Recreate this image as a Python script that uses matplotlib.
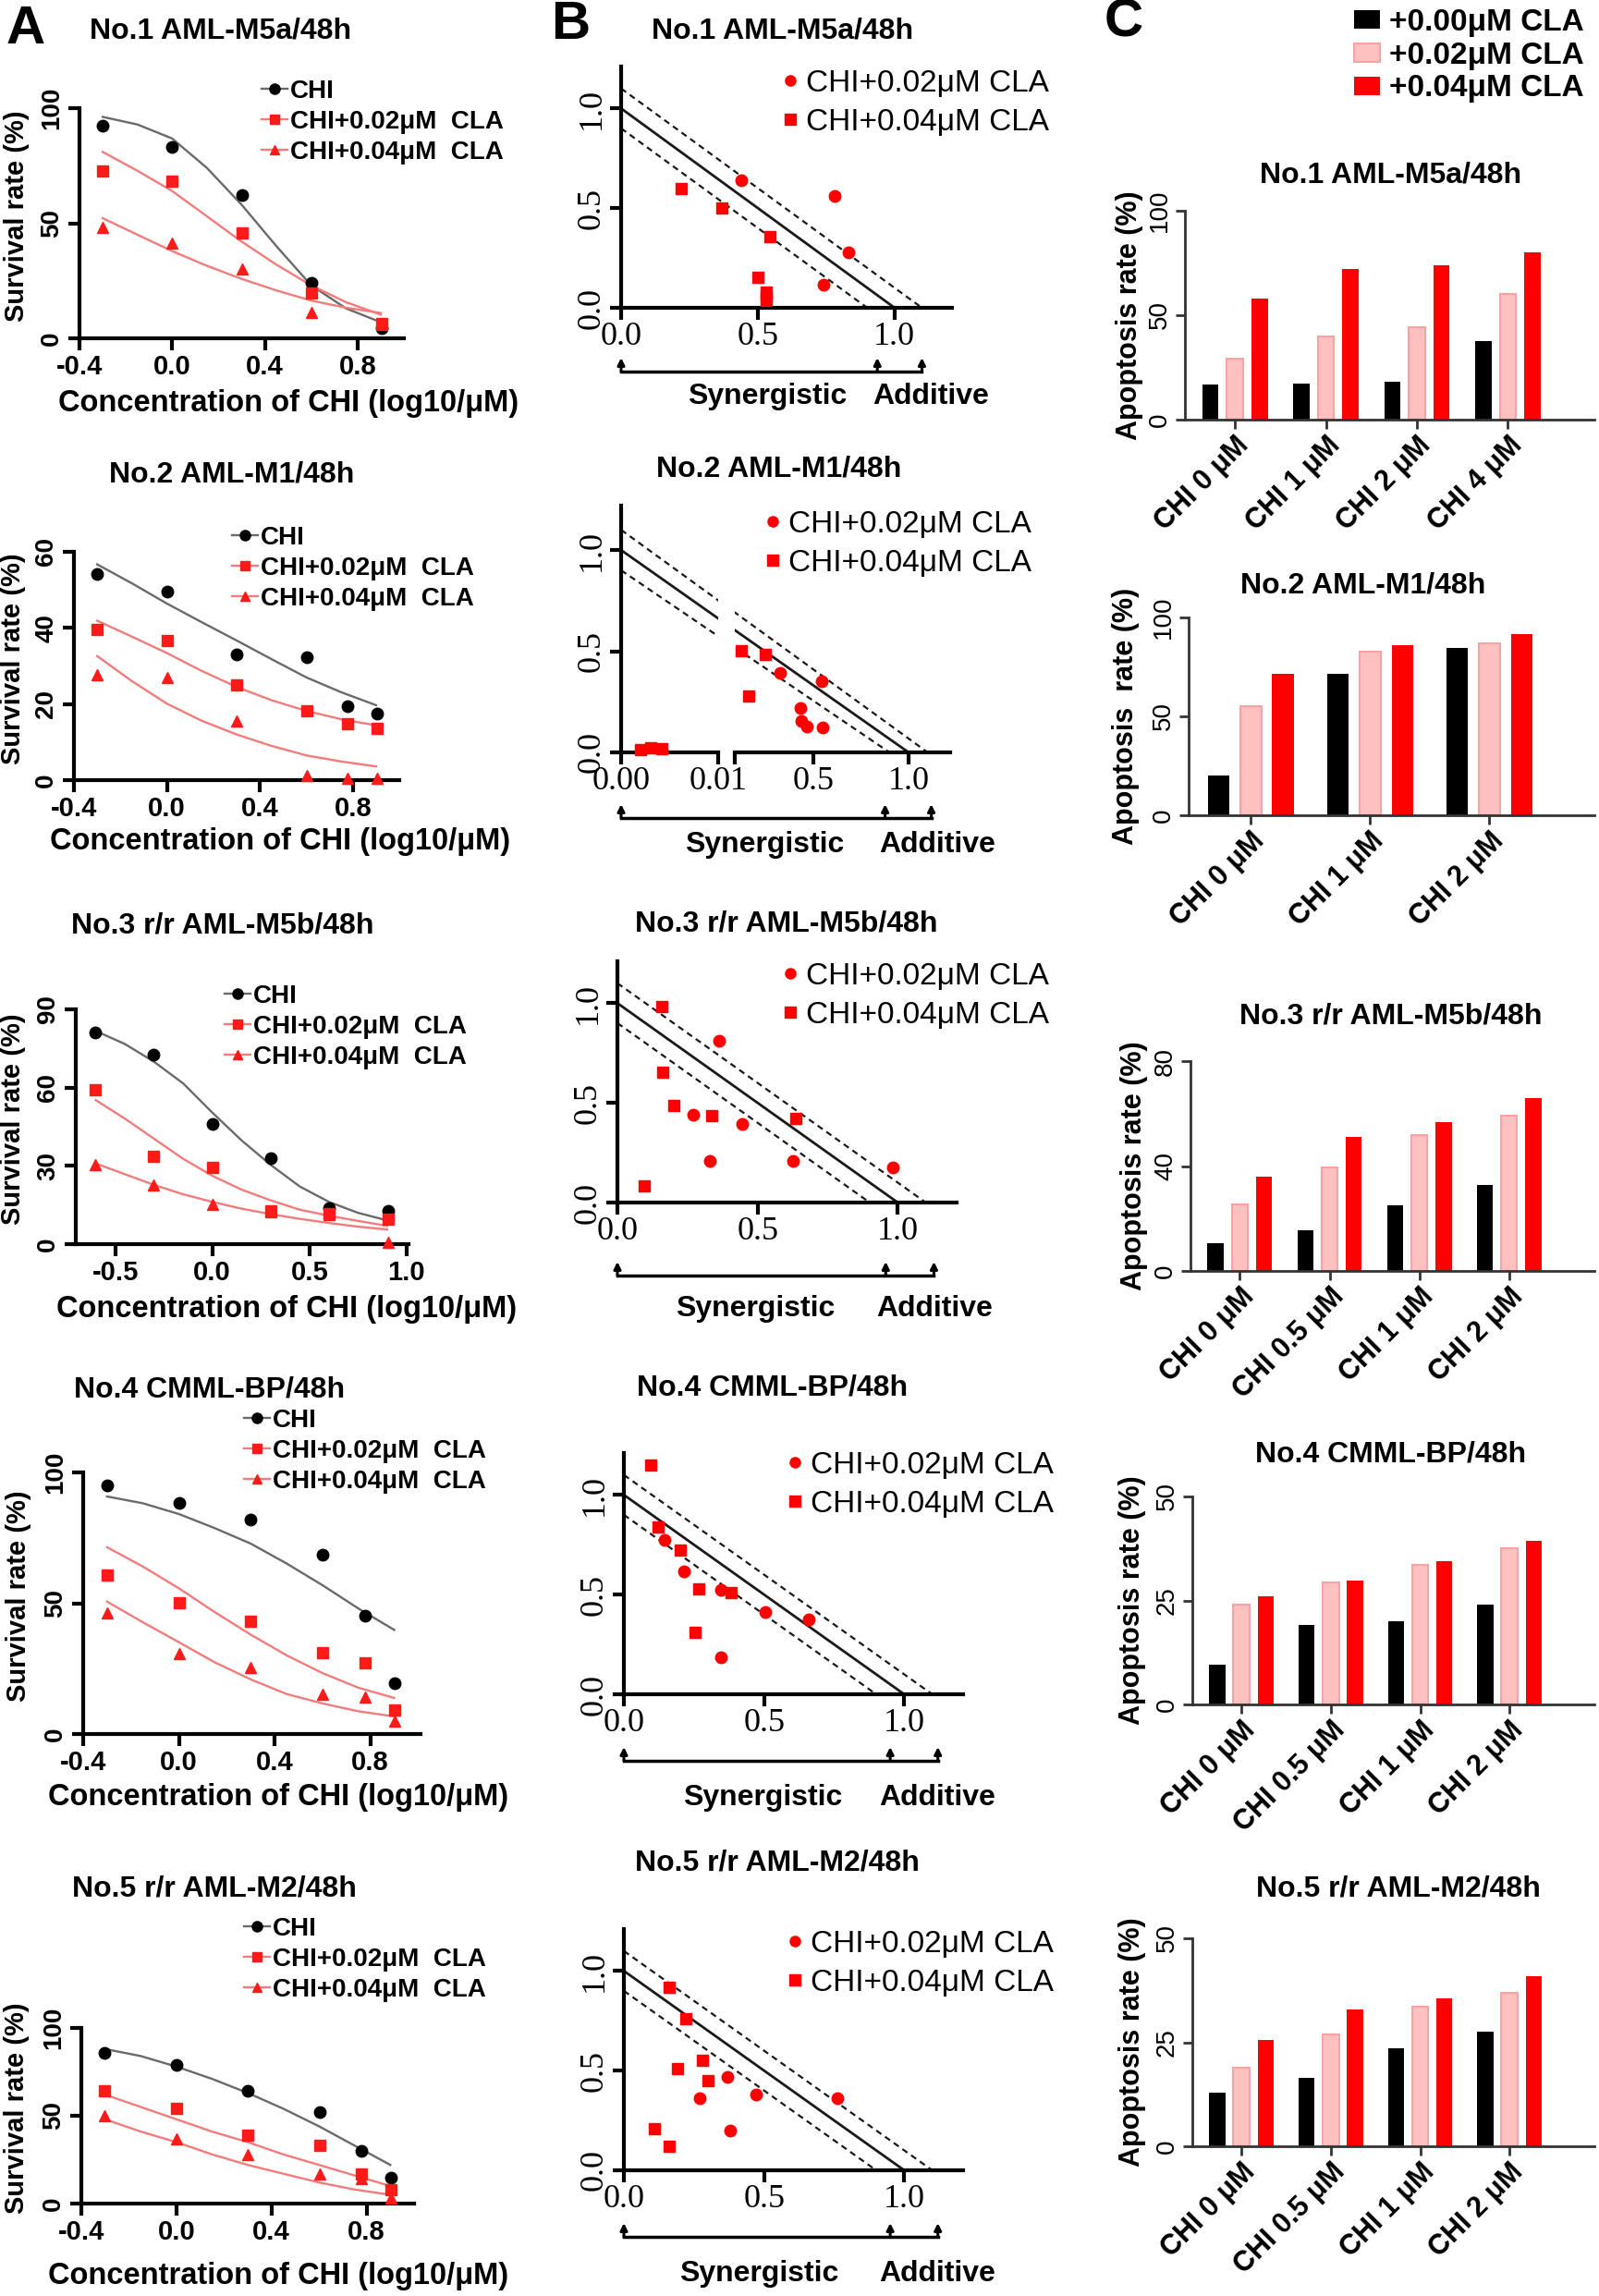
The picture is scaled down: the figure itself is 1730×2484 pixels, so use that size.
import numpy as np
import matplotlib
matplotlib.use('Agg')
import matplotlib.pyplot as plt
from matplotlib.lines import Line2D
from matplotlib.patches import Patch, FancyArrowPatch

plt.rcParams['font.family'] = 'Liberation Sans'

W, H = 1730, 2484

titles = ['No.1 AML-M5a/48h', 'No.2 AML-M1/48h', 'No.3 r/r AML-M5b/48h',
          'No.4 CMML-BP/48h', 'No.5 r/r AML-M2/48h']
leg_a = ['CHI', 'CHI+0.02\u03bcM  CLA', 'CHI+0.04\u03bcM  CLA']
leg_b = ['CHI+0.02\u03bcM CLA', 'CHI+0.04\u03bcM CLA']
leg_c = ['+0.00\u03bcM CLA', '+0.02\u03bcM CLA', '+0.04\u03bcM CLA']

# ---------------- A: survival rate (%) vs log10 CHI ----------------
a1_x = [-0.301, 0.0, 0.301, 0.602, 0.903]
a1_chi = [92.2, 83.1, 62.3, 24.0, 4.3]
a1_c02 = [72.8, 68.3, 45.9, 19.7, 6.6]
a1_c04 = [48.0, 41.2, 30.0, 11.4, 6.0]

a2_x = [-0.301, 0.0, 0.301, 0.602, 0.778, 0.903]
a2_chi = [54.1, 49.6, 33.0, 32.2, 19.4, 17.4]
a2_c02 = [39.5, 36.7, 24.9, 18.2, 14.8, 13.6]
a2_c04 = [27.6, 27.0, 15.6, 1.2, 0.4, 0.6]

a3_x = [-0.602, -0.301, 0.0, 0.301, 0.602, 0.903]
a3_chi = [81.1, 72.5, 46.1, 33.1, 13.8, 12.9]
a3_c02 = [59.3, 33.7, 29.5, 12.6, 11.7, 9.7]
a3_c04 = [30.4, 22.7, 15.2, 12.4, 11.5, 0.6]

a4_x = [-0.301, 0.0, 0.301, 0.602, 0.778, 0.903]
a4_chi = [95.0, 88.4, 82.1, 68.4, 45.3, 19.4]
a4_c02 = [60.8, 50.1, 43.0, 31.2, 27.2, 9.3]
a4_c04 = [46.3, 30.9, 25.3, 15.3, 14.2, 5.0]

a5_x = [-0.301, 0.0, 0.301, 0.602, 0.778, 0.903]
a5_chi = [86.0, 79.0, 64.0, 52.0, 30.0, 15.0]
a5_c02 = [64.0, 54.0, 39.0, 33.0, 17.0, 8.0]
a5_c04 = [50.0, 37.0, 28.0, 17.0, 14.0, 3.0]

# fitted curves
fit_x = [-0.3, -0.15, 0.0, 0.15, 0.3, 0.45, 0.6, 0.75, 0.9]
fit_x3 = [-0.6, -0.45, -0.3, -0.15, 0.0, 0.15, 0.3, 0.45, 0.6, 0.75, 0.9]
a1_fit_chi = [96.2, 92.9, 86.8, 74.0, 58.0, 40.0, 23.0, 13.0, 7.0]
a1_fit_c02 = [81.0, 72.8, 64.0, 53.0, 42.0, 32.0, 23.0, 15.7, 10.3]
a1_fit_c04 = [52.2, 45.0, 37.9, 31.5, 25.8, 20.8, 16.4, 13.3, 11.0]
a2_fit_chi = [56.7, 51.7, 46.4, 41.5, 36.7, 31.8, 27.0, 23.1, 19.7]
a2_fit_c02 = [41.9, 37.7, 33.4, 28.7, 24.5, 21.0, 18.2, 16.0, 14.4]
a2_fit_c04 = [32.6, 26.0, 20.1, 15.6, 12.0, 9.0, 6.5, 4.9, 3.6]
a3_fit_chi = [81.7, 76.7, 69.9, 61.6, 50.4, 39.8, 30.4, 22.1, 16.2, 12.0, 9.1]
a3_fit_c02 = [55.2, 48.1, 40.4, 32.7, 26.2, 20.9, 16.8, 13.2, 10.9, 8.9, 7.0]
a3_fit_c04 = [30.9, 26.8, 22.7, 19.1, 16.2, 13.6, 11.5, 9.7, 8.1, 6.7, 5.6]
a4_fit_chi = [90.8, 88.2, 84.1, 78.7, 72.8, 65.2, 56.9, 48.0, 39.8]
a4_fit_c02 = [71.4, 64.0, 55.7, 46.6, 38.0, 30.1, 23.3, 17.7, 13.8]
a4_fit_c04 = [50.6, 42.7, 35.1, 27.4, 20.9, 15.3, 11.7, 8.7, 6.7]
a5_fit_chi = [88.0, 84.0, 78.0, 71.0, 63.0, 54.0, 44.0, 33.0, 22.0]
a5_fit_c02 = [62.0, 55.0, 48.0, 41.0, 35.0, 28.0, 22.0, 16.0, 10.0]
a5_fit_c04 = [48.0, 41.0, 35.0, 28.0, 22.0, 17.0, 12.0, 8.0, 5.0]

# ---------------- B: isobologram points ----------------
b1_c02_x = [0.44, 0.78, 0.83, 0.74]
b1_c02_y = [0.64, 0.56, 0.28, 0.115]
b1_c04_x = [0.22, 0.37, 0.545, 0.50, 0.53, 0.53, 0.53]
b1_c04_y = [0.60, 0.50, 0.355, 0.155, 0.08, 0.055, 0.035]

b2_c02_x = [0.327, 0.544, 0.431, 0.44, 0.468, 0.548]
b2_c02_y = [0.392, 0.354, 0.22, 0.157, 0.129, 0.122]
b2_c04_x = [0.121, 0.161, 0.25]
b2_c04_y = [0.503, 0.278, 0.483]
b2_low_x = [0.002, 0.003, 0.0042]   # points on the 0.00-0.01 segment
b2_low_y = [0.015, 0.025, 0.02]

b3_c02_x = [0.362, 0.269, 0.444, 0.329, 0.628, 0.981]
b3_c02_y = [0.812, 0.441, 0.394, 0.21, 0.21, 0.177]
b3_c04_x = [0.158, 0.163, 0.202, 0.336, 0.636, 0.097]
b3_c04_y = [0.981, 0.653, 0.486, 0.434, 0.421, 0.085]

b4_c02_x = [0.144, 0.213, 0.345, 0.503, 0.661, 0.345]
b4_c02_y = [0.772, 0.617, 0.525, 0.414, 0.375, 0.187]
b4_c04_x = [0.096, 0.122, 0.202, 0.268, 0.383, 0.254]
b4_c04_y = [1.15, 0.838, 0.722, 0.529, 0.511, 0.309]

b5_c02_x = [0.37, 0.27, 0.38, 0.47, 0.76]
b5_c02_y = [0.47, 0.36, 0.20, 0.38, 0.36]
b5_c04_x = [0.16, 0.22, 0.19, 0.28, 0.30, 0.11, 0.16]
b5_c04_y = [0.92, 0.76, 0.51, 0.55, 0.45, 0.21, 0.12]

# ---------------- C: apoptosis rate (%) ----------------
c1_labels = ['CHI 0 \u03bcM', 'CHI 1 \u03bcM', 'CHI 2 \u03bcM', 'CHI 4 \u03bcM']
c1_c00 = [16.6, 17.4, 18.1, 37.6]
c1_c02 = [29.4, 39.7, 44.1, 60.0]
c1_c04 = [57.8, 72.1, 74.0, 79.9]

c2_labels = ['CHI 0 \u03bcM', 'CHI 1 \u03bcM', 'CHI 2 \u03bcM']
c2_c00 = [20.0, 71.3, 84.5]
c2_c02 = [55.1, 82.5, 87.1]
c2_c04 = [71.6, 86.0, 91.5]

c3_labels = ['CHI 0 \u03bcM', 'CHI 0.5 \u03bcM', 'CHI 1 \u03bcM', 'CHI 2 \u03bcM']
c3_c00 = [10.6, 15.5, 25.1, 32.6]
c3_c02 = [25.3, 39.4, 51.8, 59.2]
c3_c04 = [35.9, 51.2, 56.8, 65.9]

c4_labels = c3_labels
c4_c00 = [9.6, 19.2, 20.1, 24.0]
c4_c02 = [24.0, 29.3, 33.6, 37.6]
c4_c04 = [26.1, 29.8, 34.4, 39.4]

c5_labels = c3_labels
c5_c00 = [13.0, 16.5, 23.5, 27.5]
c5_c02 = [19.0, 27.0, 33.5, 37.0]
c5_c04 = [25.5, 33.0, 35.5, 41.0]

RED = '#ff0000'
PINK = '#ffc0c0'
PINK_EDGE = '#f7a3a3'
GREY_FIT = '#6a6a6a'
RED_FIT = '#f27c7c'

fig = plt.figure(figsize=(W / 100, H / 100), dpi=100)


def add_ax(l, t, r, b):
    return fig.add_axes([l / W, 1 - b / H, (r - l) / W, (b - t) / H])


def ftext(x, y, s, **kw):
    return fig.text(x / W, 1 - y / H, s, **kw)


def fig_x(ax, x):
    return fig.transFigure.inverted().transform(ax.transData.transform((x, 0)))[0]


def base_style(ax, lw, tl, col='k'):
    ax.spines[['top', 'right']].set_visible(False)
    ax.spines[['left', 'bottom']].set_linewidth(lw)
    ax.spines[['left', 'bottom']].set_color(col)
    ax.tick_params(width=lw, length=tl, color=col)
    ax.patch.set_alpha(0)


# panel letters
ftext(28, 32, 'A', fontsize=42, fontweight='bold', ha='center', va='center')
ftext(617, 27, 'B', fontsize=42, fontweight='bold', ha='center', va='center')
ftext(1216, 24, 'C', fontsize=42, fontweight='bold', ha='center', va='center')

TFS = 23  # title size

# ---------------- column A ----------------
a_rows = [
    (a1_x, (a1_chi, a1_c02, a1_c04), fit_x, (a1_fit_chi, a1_fit_c02, a1_fit_c04)),
    (a2_x, (a2_chi, a2_c02, a2_c04), fit_x, (a2_fit_chi, a2_fit_c02, a2_fit_c04)),
    (a3_x, (a3_chi, a3_c02, a3_c04), fit_x3, (a3_fit_chi, a3_fit_c02, a3_fit_c04)),
    (a4_x, (a4_chi, a4_c02, a4_c04), fit_x, (a4_fit_chi, a4_fit_c02, a4_fit_c04)),
    (a5_x, (a5_chi, a5_c02, a5_c04), fit_x, (a5_fit_chi, a5_fit_c02, a5_fit_c04)),
]
a_box = [(86, 117, 437, 366), (80, 597, 432, 844), (82, 1092, 442, 1346),
         (90, 1593, 455, 1876), (88, 2194, 448, 2384)]
a_xlim = [(-0.4, 1.0), (-0.4, 1.0), (-0.703, 1.01), (-0.4, 1.01), (-0.4, 1.0)]
a_xt = [[-0.4, 0.0, 0.4, 0.8]] * 2 + [[-0.5, 0.0, 0.5, 1.0]] + [[-0.4, 0.0, 0.4, 0.8]] * 2
a_ymax = [100, 60, 90, 100, 100]
a_yt = [[0, 50, 100], [0, 20, 40, 60], [0, 30, 60, 90], [0, 50, 100], [0, 50, 100]]
a_title = [(239, 33), (251, 513), (241, 1002), (227, 1503), (232, 2043)]
a_leg = [(283, 86), (251, 569), (243, 1065), (264, 1524), (264, 2074)]
a_xlab = [(312, 437), (303, 910), (310, 1416), (301, 1945), (301, 2463)]
a_ylab = [18, 14, 14, 20, 18]

markers_a = ['o', 's', '^']
pt_cols = ['k', '#ff1a1a', '#ff1a1a']
fit_cols = [GREY_FIT, RED_FIT, RED_FIT]
ms_a = [9, 8, 8]

for i, (xs, pts, fx, fits) in enumerate(a_rows):
    ax = add_ax(*a_box[i])
    ax.set_xlim(*a_xlim[i])
    ax.set_ylim(0, a_ymax[i])
    for k in range(3):
        ax.plot(fx, fits[k], color=fit_cols[k], lw=1.7, zorder=2)
        ax.plot(xs, pts[k], ls='none', marker=markers_a[k], ms=ms_a[k],
                color=pt_cols[k], clip_on=False, zorder=3)
    base_style(ax, 3, 9)
    ax.set_xticks(a_xt[i], ['%.1f' % v for v in a_xt[i]])
    ax.set_yticks(a_yt[i], [str(v) for v in a_yt[i]])
    ax.tick_params(labelsize=21, pad=3)
    for t in ax.get_xticklabels():
        t.set_fontweight('bold')
    for t in ax.get_yticklabels():
        t.set_fontweight('bold')
        t.set_fontsize(20)
        t.set_rotation(90)
        t.set_va('center')
    l, t_, r, b = a_box[i]
    ftext(*a_title[i], titles[i], fontsize=TFS, fontweight='bold', ha='center', va='center')
    ftext(*a_xlab[i], 'Concentration of CHI (log10/\u03bcM)',
          fontsize=23.5, fontweight='bold', ha='center', va='center')
    ftext(a_ylab[i], (t_ + b) / 2 - 8, 'Survival rate (%)', fontsize=21,
          fontweight='bold', rotation=90, ha='center', va='center')
    hs = [Line2D([], [], color=fit_cols[k], lw=1.7, marker=markers_a[k], ms=ms_a[k] - 1,
                 mfc=pt_cols[k], mec=pt_cols[k]) for k in range(3)]
    lx, ly = a_leg[i]
    ax.legend(hs, leg_a, loc='upper left', bbox_to_anchor=(lx / W, 1 - ly / H),
              bbox_transform=fig.transFigure, frameon=False, borderpad=0,
              borderaxespad=0, handlelength=1.0, handletextpad=0.12,
              labelspacing=0.25, prop=dict(size=20, weight='bold'))

# ---------------- column B ----------------
b_rows = [(b1_c02_x, b1_c02_y, b1_c04_x, b1_c04_y),
          (b2_c02_x, b2_c02_y, b2_c04_x, b2_c04_y),
          (b3_c02_x, b3_c02_y, b3_c04_x, b3_c04_y),
          (b4_c02_x, b4_c02_y, b4_c04_x, b4_c04_y),
          (b5_c02_x, b5_c02_y, b5_c04_x, b5_c04_y)]
b_box = [(672, 72, 1030, 333), (795, 547, 1028, 814), (668, 1040, 1035, 1301),
         (675, 1572, 1042, 1833), (675, 2087, 1042, 2348)]
b_arrows = [[0.937, 1.10], [0.877, 1.119], [0.957, 1.129], [0.95, 1.12], [0.95, 1.12]]
b_brk = [(402, 387), (885, 870), (1380, 1365), (1905, 1890), (2420, 2405)]
b_syn = [(830, 429), (827, 914), (817, 1416), (825, 1945), (821, 2460)]
b_add = [(1007, 429), (1014, 914), (1011, 1416), (1014, 1945), (1014, 2460)]
b_title = [(847, 33), (843, 507), (851, 1000), (836, 1502), (841, 2016)]
b_leg = [(847, 75), (828, 552), (847, 1041), (852, 1570), (852, 2088)]
serif = dict(family='Liberation Serif', size=26)


def b_ticks(ax, xt, xl, yaxis=True):
    ax.set_xticks(xt, xl)
    for t in ax.get_xticklabels():
        t.set_fontproperties(serif)
    if yaxis:
        ax.set_yticks([0, 0.5, 1.0], ['0.0', '0.5', '1.0'])
        for t in ax.get_yticklabels():
            t.set_fontproperties(serif)
            t.set_rotation(90)
            t.set_va('center')
    else:
        ax.spines['left'].set_visible(False)
        ax.set_yticks([])


def ref_lines(axl, axr):
    for c, ls, lw in [(1.0, '-', 2.0), (1.1, (0, (3, 2.2)), 1.6), (0.9, (0, (3, 2.2)), 1.6)]:
        p0 = axl.transData.transform((0.0, c))
        p1 = axr.transData.transform((c, 0.0))
        for ax in [axl] + ([axr] if axr is not axl else []):
            q = ax.transData.inverted().transform([p0, p1])
            ax.plot(q[:, 0], q[:, 1], color='#1a1a1a', ls=ls, lw=lw, zorder=1)


for i, (cx, cy, sx, sy) in enumerate(b_rows):
    l, t_, r, b = b_box[i]
    if i == 1:
        axl = add_ax(672, t_, 777, b)
        axl.set_xlim(0, 0.01)
        axl.set_ylim(0, 1.22)
        axr = add_ax(l, t_, r, b)
        axr.set_xlim(0.089, 1.218)
        axr.set_ylim(0, 1.22)
        for a in (axl, axr):
            a.autoscale(False)
            base_style(a, 3, 9)
        b_ticks(axl, [0, 0.01], ['0.00', '0.01'])
        b_ticks(axr, [0.089, 0.5, 1.0], ['', '0.5', '1.0'], yaxis=False)
        axl.plot(b2_low_x, b2_low_y, ls='none', marker='s', ms=8.5, color=RED,
                 clip_on=False, zorder=3)
    else:
        axl = axr = add_ax(l, t_, r, b)
        axl.set_xlim(0, 1.21)
        axl.set_ylim(0, 1.21)
        axl.autoscale(False)
        base_style(axl, 3, 9)
        b_ticks(axl, [0, 0.5, 1.0], ['0.0', '0.5', '1.0'])
    ref_lines(axl, axr)
    axr.plot(cx, cy, ls='none', marker='o', ms=9, color=RED, clip_on=False, zorder=3)
    axr.plot(sx, sy, ls='none', marker='s', ms=8.5, color=RED, clip_on=False, zorder=3)
    for a in (axl, axr):
        a.tick_params(pad=2)

    # bracket with arrows under the axis
    xs_fig = [fig_x(axl, 0.0)] + [fig_x(axr, v) for v in b_arrows[i]]
    yb, ytip = b_brk[i]
    fig.add_artist(Line2D([xs_fig[0], xs_fig[-1]], [1 - yb / H] * 2, color='k', lw=2.5,
                          transform=fig.transFigure))
    for xf in xs_fig:
        fig.add_artist(FancyArrowPatch((xf, 1 - yb / H), (xf, 1 - ytip / H),
                                       arrowstyle='-|>', mutation_scale=11, lw=2.2,
                                       color='k', shrinkA=0, shrinkB=0,
                                       transform=fig.transFigure))
    ftext(*b_syn[i], 'Synergistic', fontsize=23, fontweight='bold', ha='center', va='center')
    ftext(*b_add[i], 'Additive', fontsize=23, fontweight='bold', ha='center', va='center')
    ftext(*b_title[i], titles[i], fontsize=TFS, fontweight='bold', ha='center', va='center')
    hs = [Line2D([], [], ls='none', marker='o', ms=8, color=RED),
          Line2D([], [], ls='none', marker='s', ms=8, color=RED)]
    lx, ly = b_leg[i]
    axr.legend(hs, leg_b, loc='upper left', bbox_to_anchor=(lx / W, 1 - ly / H),
               bbox_transform=fig.transFigure, frameon=False, borderpad=0,
               borderaxespad=0, handlelength=0.5, handletextpad=0.25,
               labelspacing=0.32, prop=dict(size=24))

# ---------------- column C ----------------
c_rows = [(c1_labels, c1_c00, c1_c02, c1_c04), (c2_labels, c2_c00, c2_c02, c2_c04),
          (c3_labels, c3_c00, c3_c02, c3_c04), (c4_labels, c4_c00, c4_c02, c4_c04),
          (c5_labels, c5_c00, c5_c02, c5_c04)]
c_box = [(1282, 228, 1725, 454), (1286, 668, 1725, 882), (1288, 1148, 1725, 1375),
         (1290, 1619, 1725, 1844), (1290, 2097, 1725, 2322)]
c_xlim = [(-0.55, 3.95), (-0.52, 2.88), (-0.55, 3.95), (-0.55, 3.95), (-0.55, 3.95)]
c_ymax = [100, 100, 80, 50, 50]
c_yt = [[0, 50, 100], [0, 50, 100], [0, 40, 80], [0, 25, 50], [0, 25, 50]]
c_title = [(1505, 190), (1475, 633), (1505, 1100), (1505, 1573), (1513, 2043)]
c_ylab_x = [1222, 1218, 1227, 1225, 1225]
c_ylab = ['Apoptosis rate (%)', 'Apoptosis  rate (%)', 'Apoptosis rate (%)',
          'Apoptosis rate (%)', 'Apoptosis rate (%)']
offs = [-0.27, 0.0, 0.27]
bar_w = 0.18

for i, (labs, v0, v1, v2) in enumerate(c_rows):
    ax = add_ax(*c_box[i])
    x = np.arange(len(labs))
    ax.bar(x + offs[0], v0, bar_w, color='k', zorder=2)
    ax.bar(x + offs[1], v1, bar_w, color=PINK, edgecolor=PINK_EDGE, lw=1.5, zorder=2)
    ax.bar(x + offs[2], v2, bar_w, color=RED, zorder=2)
    ax.set_xlim(*c_xlim[i])
    ax.set_ylim(0, c_ymax[i])
    base_style(ax, 2, 7, col='#333333')
    ax.set_xticks(x, labs)
    ax.set_yticks(c_yt[i], [str(v) for v in c_yt[i]])
    ax.tick_params(axis='y', labelsize=20, pad=3)
    ax.tick_params(axis='x', pad=2)
    for t in ax.get_yticklabels():
        t.set_rotation(90)
        t.set_va('center')
    for t in ax.get_xticklabels():
        t.set_fontsize(22)
        t.set_fontweight('bold')
        t.set_rotation(45)
        t.set_ha('right')
        t.set_va('top')
        t.set_rotation_mode('anchor')
    l, t_, r, b = c_box[i]
    ftext(*c_title[i], titles[i], fontsize=TFS, fontweight='bold', ha='center', va='center')
    ftext(c_ylab_x[i], (t_ + b) / 2, c_ylab[i], fontsize=22, fontweight='bold',
          rotation=90, ha='center', va='center')

hs = [Patch(facecolor='k'), Patch(facecolor=PINK, edgecolor=PINK_EDGE, lw=1.5),
      Patch(facecolor=RED)]
fig.legend(hs, leg_c, loc='upper left', bbox_to_anchor=(1465 / W, 1 - 9 / H),
           frameon=False, borderpad=0, borderaxespad=0, handlelength=0.85,
           handleheight=0.55, handletextpad=0.3, labelspacing=0.14,
           prop=dict(size=24, weight='bold'))

fig.savefig('out.png', dpi=100)
